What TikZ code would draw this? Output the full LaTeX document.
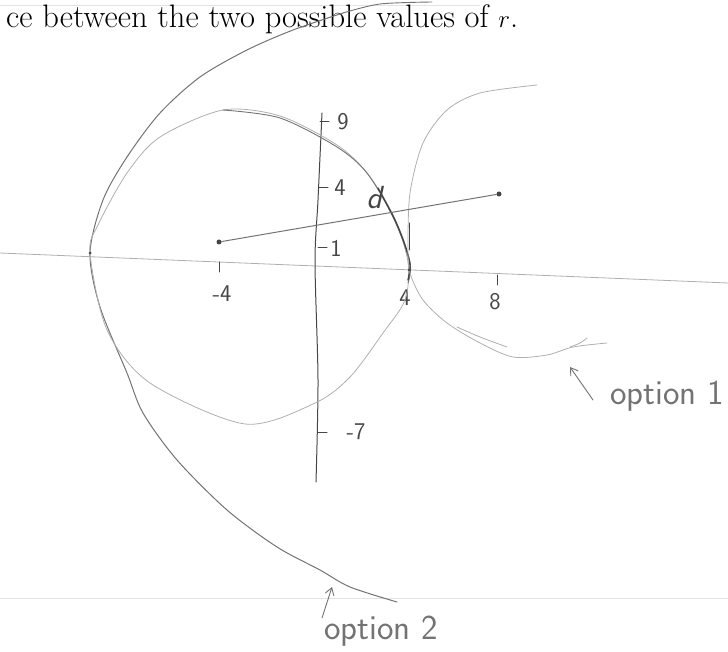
\documentclass[tikz,border=0pt]{standalone}
\usepackage{xcolor}
\usepackage{tikz}
\usetikzlibrary{arrows.meta,positioning}
\definecolor{pdark}{RGB}{70,70,70}
\definecolor{pmid}{RGB}{115,115,115}
\definecolor{plight}{RGB}{175,175,175}
\definecolor{pfaint}{RGB}{228,228,228}

\begin{document}
\begin{tikzpicture}[
  x=1pt, y=-1pt, line cap=round, line join=round,
  pencil/.style={draw=pdark, line width=1pt},
  soft/.style={draw=pmid, line width=0.9pt},
  faint/.style={draw=plight, line width=0.8pt},
  hand/.style={font=\sffamily\fontsize{24}{24}\selectfont, text=pdark, inner sep=0pt},
  note/.style={font=\sffamily\fontsize{35}{35}\selectfont, text=pmid, inner sep=0pt},
  dot/.style={circle, fill=pdark, inner sep=0pt, minimum size=5pt},
  hint/.style={-{Straight Barb[length=7pt,width=9pt]}, draw=pmid, line width=0.9pt}
]
\useasboundingbox (0,0) rectangle (728,652);

\draw[pfaint, line width=0.8pt] (0,5) -- (480,5);
\draw[pfaint, line width=0.8pt] (0,598) -- (728,598);
\node[anchor=base west, inner sep=0pt, font=\fontsize{32.5}{38}\selectfont] (head) at (6,28)
  {ce between the two possible values of $r$.};

\coordinate (xl) at (0,253);
\coordinate (xr) at (728,283);
\draw[faint] (xl) -- (xr);
\draw[pencil] plot[smooth] coordinates {(322,113) (318,200) (315,262) (318,380) (316,482)};

\foreach \tx/\ty/\lab/\lx in {320/122/9/343, 319/188/4/340, 318/248/1/336, 318/432/-7/356}{
  \draw[pencil] (\tx,\ty) -- ++(9,0);
  \node[hand] at (\lx,\ty) {\lab};
}
\draw[pencil] (219,262) -- (219,272);
\node[hand] (lm4) at (222,294) {-4};
\draw[pencil] (409,223) -- (409,250);
\node[hand] (l4) at (405,298) {4};
\draw[pencil] (497,275) -- (497,285);
\node[hand] (l8) at (495,302) {8};

\draw[soft] plot[smooth] coordinates {(432,2) (380,4) (343,13)};
\draw[pencil, draw=pmid] plot[smooth] coordinates {(343,13) (293,30) (247,50) (200,77) (160,113)
  (127,157) (103,200) (90,253) (100,307) (127,373) (143,413) (177,460) (227,510) (277,547)
  (320,570) (350,587) (397,602)};

\draw[faint] plot[smooth cycle] coordinates {(223,110) (280,116) (337,145) (367,173) (393,215)
  (408,262) (405,300) (383,333) (350,377) (315,403) (245,424) (150,383) (107,330) (90,253)
  (98,225) (127,173) (160,137)};
\draw[soft] plot[smooth] coordinates {(223,110) (280,118) (337,147) (367,173) (393,217) (410,262) (408,283)};
\draw[pencil, line width=1.4pt] plot[smooth] coordinates {(378,188) (395,220) (405,245) (410,265) (408,280)};

\draw[faint] plot[smooth] coordinates {(537,85) (480,93) (447,110) (423,143) (410,193) (408,247)
  (410,273) (423,300) (447,323) (480,343) (513,357) (547,355) (573,347) (607,343)};
\draw[faint] plot[smooth] coordinates {(457,327) (480,337) (507,347)};
\draw[faint] plot[smooth] coordinates {(570,347) (580,343) (587,338)};

\node[dot, minimum size=3pt] (p2) at (90,253) {};
\node[dot, minimum size=3pt] (p1) at (409,270) {};
\node[dot] (cA) at (219,242) {};
\node[dot] (cB) at (499,194) {};
\draw[pencil, draw=pmid] (cA) -- (cB);
\node[hand, font=\sffamily\itshape\fontsize{32}{32}\selectfont] (dlab) at (374,198) {d};

\node[note] (opt1) at (667,396) {option 1};
\coordinate (o1tail) at (593,400);
\coordinate (o1tip) at (570,367);
\draw[hint] (o1tail) -- (o1tip);
\node[note] (opt2) at (381,631) {option 2};
\coordinate (o2tail) at (322,618);
\coordinate (o2tip) at (332,587);
\draw[hint] (o2tail) -- (o2tip);
\end{tikzpicture}
\end{document}
